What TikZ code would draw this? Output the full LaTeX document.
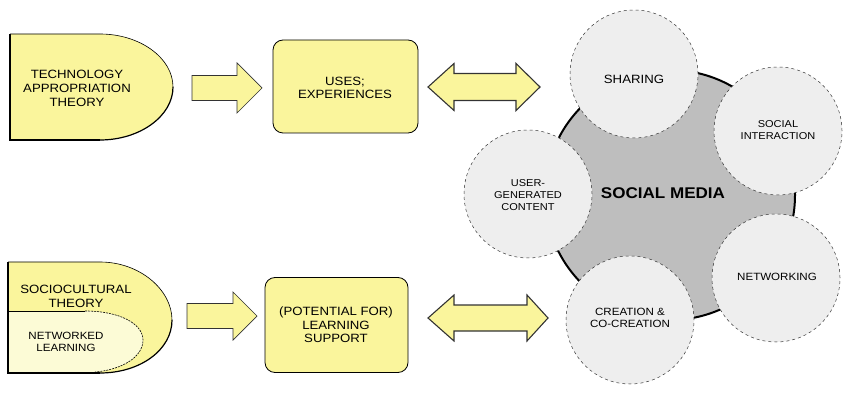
\documentclass[tikz,border=0pt]{standalone}
\usepackage{fontspec}
\setmainfont[FakeStretch=1.1]{Liberation Sans}
\definecolor{ylw}{HTML}{FAF59C}
\definecolor{lylw}{HTML}{FCFBD6}
\definecolor{midgrey}{HTML}{BEBEBE}
\definecolor{lgrey}{HTML}{EEEEEE}
\definecolor{outl}{HTML}{333333}
\tikzset{
  big/.style={font=\fontsize{12}{14}\selectfont, align=center},
  small/.style={font=\fontsize{10}{12}\selectfont, align=center},
  ybox/.style={draw=black, fill=ylw, rounded corners=10pt, line width=0.8pt, inner sep=0pt},
  bubble/.style={circle, draw=outl, dashed, fill=lgrey, minimum size=128pt, inner sep=0pt, line width=0.5pt},
  barrow/.style={draw=outl, fill=ylw, line width=0.7pt, line join=miter},
}
\begin{document}
\begin{tikzpicture}[x=1pt,y=-1pt]
\useasboundingbox (0,0) rectangle (850,411);
% top D shape
\path[fill=ylw] (10,34) -- (100,34) .. controls (140,34) and (173,58) .. (173,87) .. controls (173,116) and (140,140) .. (100,140) -- (10,140) -- cycle;
\draw[line width=0.6pt] (10,34) -- (100,34) .. controls (140,34) and (173,58) .. (173,87);
\draw[line width=1.2pt] (173,87) .. controls (173,116) and (140,140) .. (100,140);
\draw[line width=2pt] (100,140) -- (10,140) -- (10,34);
\node[big] (tat) at (77,88) {TECHNOLOGY\\APPROPRIATION\\THEORY};

% bottom D shape
\path[fill=ylw] (8,262) -- (100,262) .. controls (140,262) and (172,290) .. (172,320) .. controls (172,350) and (140,373) .. (100,373) -- (8,373) -- cycle;
\path[fill=lylw] (8,311) -- (85,311) .. controls (120,311) and (143,324) .. (143,340) .. controls (143,358) and (120,370) .. (95,372) -- (8,372) -- cycle;
\draw[line width=0.6pt] (8,262) -- (100,262) .. controls (140,262) and (172,290) .. (172,320);
\draw[line width=1.2pt] (172,320) .. controls (172,350) and (140,373) .. (100,373);
\draw[line width=2pt] (100,373) -- (8,373) -- (8,262);
\draw[line width=0.6pt] (8,311) -- (85,311);
\draw[line width=0.6pt, dashed, dash pattern=on 2pt off 1pt] (85,311) .. controls (120,311) and (143,324) .. (143,340) .. controls (143,358) and (120,370) .. (95,372);
\node[big] (sct) at (76,296) {SOCIOCULTURAL\\THEORY};
\node[font=\fontsize{10.5}{12}\selectfont, align=center] (nl) at (66,342) {NETWORKED\\LEARNING};

% boxes
\node[ybox, minimum width=145pt, minimum height=93pt] (uses) at (345.5,86.5) {};
\node[big, font=\fontsize{12}{12.5}\selectfont] (usest) at (345,88) {USES;\\EXPERIENCES};
\node[ybox, minimum width=143pt, minimum height=95pt] (pot) at (336.5,325) {};
\node[big, font=\fontsize{12}{13.3}\selectfont] (pott) at (336,325) {(POTENTIAL FOR)\\LEARNING\\SUPPORT};

% single arrows
\coordinate (a1) at (192,88);
\draw[barrow] (a1) ++(0,-12.5) -- ++(45,0) -- ++(0,-12.5) -- ++(25,25) -- ++(-25,25) -- ++(0,-12.5) -- ++(-45,0) -- cycle;
\coordinate (a2) at (187,316);
\draw[barrow] (a2) ++(0,-12.5) -- ++(46,0) -- ++(0,-11.5) -- ++(24,24) -- ++(-24,24) -- ++(0,-11.5) -- ++(-46,0) -- cycle;

% double arrows
\coordinate (d1) at (428,87);
\draw[barrow, line width=1.1pt] (d1) -- ++(26,-23.5) -- ++(0,10) -- ++(62,0) -- ++(0,-10) -- ++(24,23.5) -- ++(-24,23.5) -- ++(0,-10) -- ++(-62,0) -- ++(0,10) -- cycle;
\coordinate (d2) at (428,318);
\draw[barrow, line width=1.1pt] (d2) -- ++(26,-23) -- ++(0,10) -- ++(73,0) -- ++(0,-10) -- ++(21,23) -- ++(-21,23) -- ++(0,-10) -- ++(-73,0) -- ++(0,10) -- cycle;

% social media
\node[circle, draw=black, line width=2pt, fill=midgrey, minimum size=250pt, inner sep=0pt] (sm) at (670,195) {};
\node[bubble] (share) at (634,74) {};
\node[bubble] (inter) at (778,131) {};
\node[bubble] (ugc) at (528,194) {};
\node[bubble] (net) at (776,278) {};
\node[bubble] (crea) at (630,320) {};
\node[font=\fontsize{12}{14}\selectfont] (sharet) at (634,79) {SHARING};
\node[small] (intert) at (778,130) {SOCIAL\\INTERACTION};
\node[small] (ugct) at (528,195) {USER-\\GENERATED\\CONTENT};
\node[small, font=\fontsize{10.5}{12}\selectfont] (nett) at (777,277) {NETWORKING};
\node[small, font=\fontsize{10.5}{12.5}\selectfont] (creat) at (630,318) {CREATION \&\\CO-CREATION};
\node[font=\bfseries\fontsize{15.5}{18}\selectfont] (smt) at (663,193) {SOCIAL MEDIA};
\end{tikzpicture}
\end{document}
